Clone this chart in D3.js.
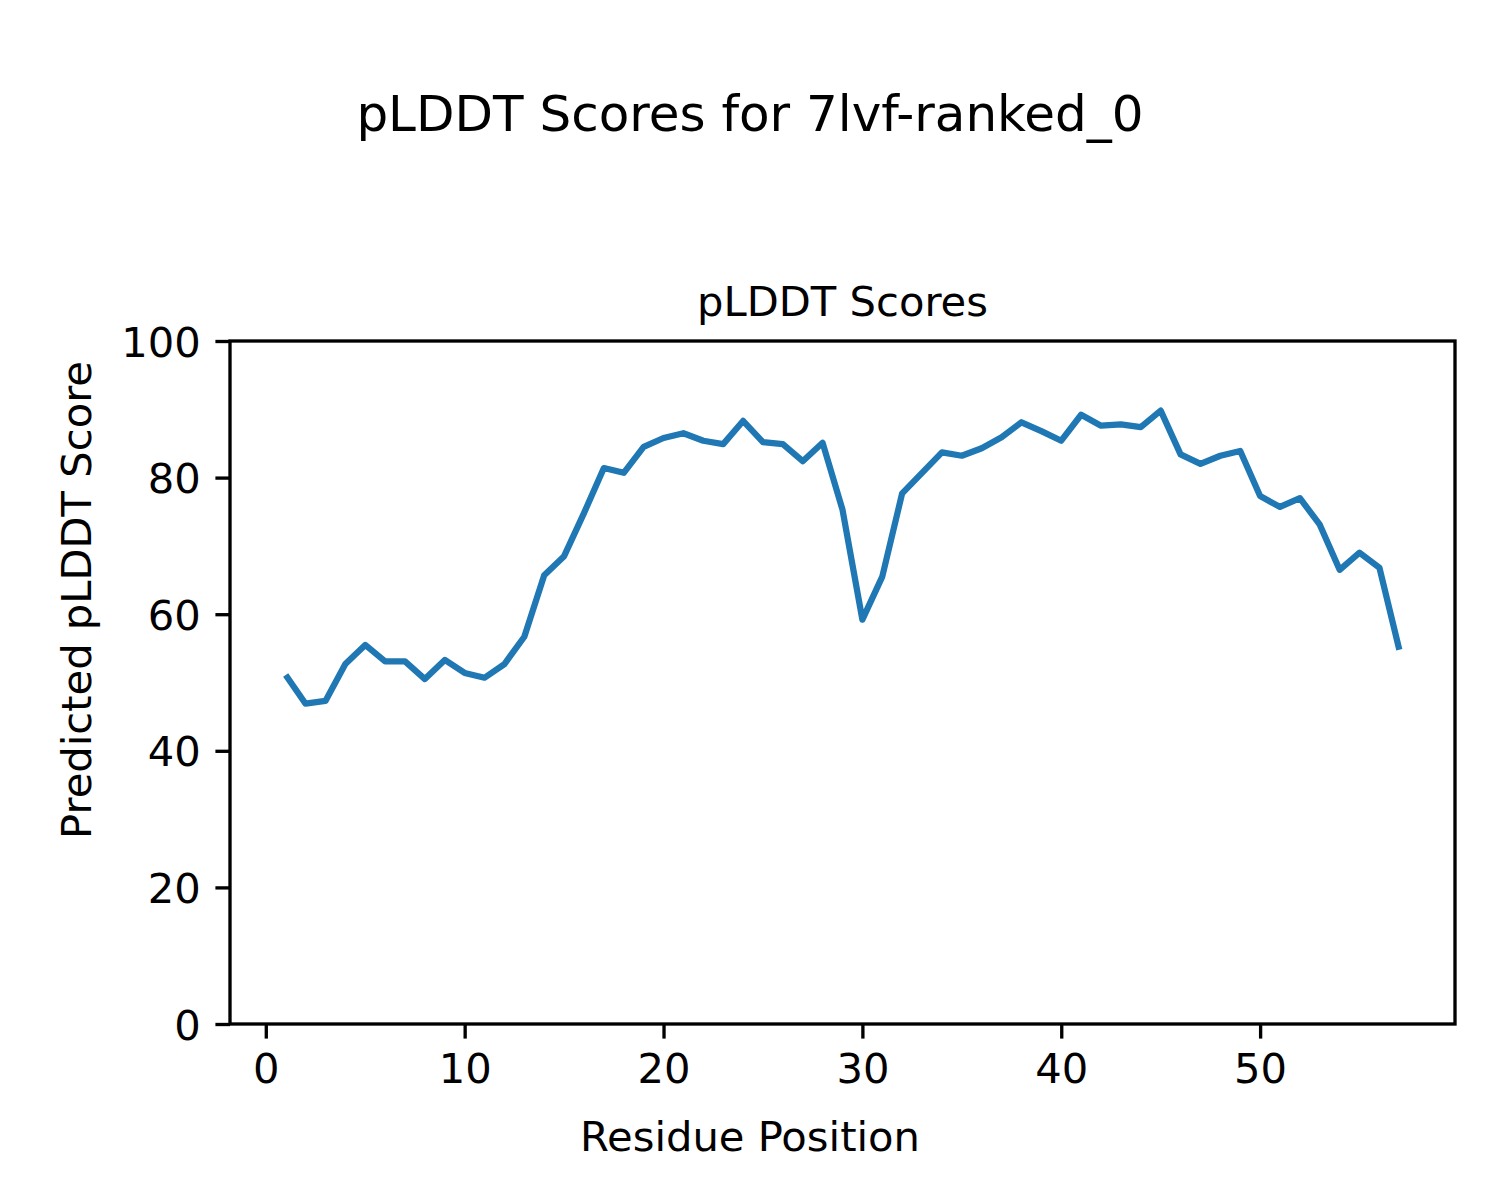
<!DOCTYPE html>
<html>
<head>
<meta charset="utf-8">
<script src="https://cdn.jsdelivr.net/npm/d3@7"></script>
<style>
  html, body { margin: 0; padding: 0; background: #fff; }
  svg { display: block; }
  text { font-family: "DejaVu Sans", sans-serif; fill: #000; }
</style>
</head>
<body>
<script>
// ---- data ----
const residues = d3.range(1, 58);
const scores = [
  51.1, 46.9, 47.3, 52.7, 55.5, 53.1, 53.1, 50.5, 53.3, 51.4,
  50.7, 52.7, 56.7, 65.7, 68.5, 74.8, 81.4, 80.7, 84.5, 85.8,
  86.5, 85.4, 84.9, 88.3, 85.2, 84.9, 82.4, 85.1, 75.3, 59.2,
  65.5, 77.7, 80.7, 83.7, 83.2, 84.3, 85.9, 88.1, 86.8, 85.4,
  89.2, 87.6, 87.8, 87.4, 89.8, 83.4, 82.0, 83.2, 83.9, 77.3,
  75.7, 77.0, 73.1, 66.5, 69.0, 66.8, 54.8
];
const xTicks = [0, 10, 20, 30, 40, 50];
const yTicks = [0, 20, 40, 60, 80, 100];
const suptitle = "pLDDT Scores for 7lvf-ranked_0";
const axTitle = "pLDDT Scores";
const xLabel = "Residue Position";
const yLabel = "Predicted pLDDT Score";

// ---- layout ----
const W = 1500, H = 1200;
const L = 230, R = 1455, T = 341, B = 1024;
const fs = 41.67;

const svg = d3.select("body").append("svg").attr("width", W).attr("height", H);

const xMin = d3.min(residues), xMax = d3.max(residues);
const pad = (xMax - xMin) * 0.05;
const x = d3.scaleLinear().domain([xMin - pad, xMax + pad]).range([L, R]);
const y = d3.scaleLinear().domain([0, 100]).range([B, T]);

// line
const data = residues.map((r, i) => [r, scores[i]]);
svg.append("path")
  .datum(data)
  .attr("fill", "none")
  .attr("stroke", "#1f77b4")
  .attr("stroke-width", 6.25)
  .attr("stroke-linejoin", "round")
  .attr("stroke-linecap", "butt")
  .attr("d", d3.line().x(d => x(d[0])).y(d => y(d[1])));

// axes
const xAxis = d3.axisBottom(x).tickValues(xTicks).tickSize(14.6).tickPadding(14.6).tickFormat(d3.format("d"));
const yAxis = d3.axisLeft(y).tickValues(yTicks).tickSize(14.6).tickPadding(14.6).tickFormat(d3.format("d"));

const gx = svg.append("g").attr("transform", `translate(0,${B})`).call(xAxis);
const gy = svg.append("g").attr("transform", `translate(${L},0)`).call(yAxis);
[gx, gy].forEach(g => {
  g.select(".domain").remove();
  g.selectAll(".tick line").attr("stroke", "#000").attr("stroke-width", 3.33);
  g.selectAll(".tick text").attr("font-size", fs).attr("font-family", "DejaVu Sans").attr("fill", "#000");
});
gx.selectAll(".tick text").attr("dy", null).attr("y", null)
  .attr("transform", "translate(0, 59)").attr("dominant-baseline", "auto");
gy.selectAll(".tick text").attr("dy", "0.36em");

// frame
svg.append("rect")
  .attr("x", L).attr("y", T).attr("width", R - L).attr("height", B - T)
  .attr("fill", "none").attr("stroke", "#000").attr("stroke-width", 3.33);

// texts
svg.append("text").attr("x", 750).attr("y", 131).attr("text-anchor", "middle")
  .attr("font-size", 50).text(suptitle);
svg.append("text").attr("x", (L + R) / 2).attr("y", 316).attr("text-anchor", "middle")
  .attr("font-size", fs).text(axTitle);
svg.append("text").attr("x", 750).attr("y", 1151).attr("text-anchor", "middle")
  .attr("font-size", fs).text(xLabel);
svg.append("text").attr("transform", "translate(91,600) rotate(-90)").attr("text-anchor", "middle")
  .attr("font-size", fs).text(yLabel);
</script>
</body>
</html>
